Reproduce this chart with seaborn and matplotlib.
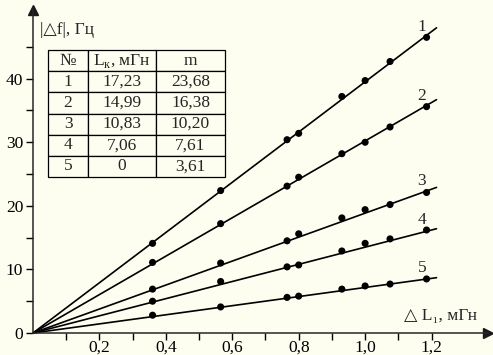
import matplotlib
matplotlib.use("Agg")
import matplotlib.pyplot as plt
import numpy as np
import pandas as pd
import seaborn as sns

# ===== data =====
dL = [0.36, 0.565, 0.765, 0.80, 0.93, 1.00, 1.075, 1.185]
df1 = [14.1, 22.4, 30.4, 31.4, 37.2, 39.7, 42.7, 46.5]
df2 = [11.1, 17.2, 23.1, 24.5, 28.2, 30.0, 32.4, 35.6]
df3 = [6.9, 11.0, 14.5, 15.6, 18.1, 19.4, 20.2, 22.1]
df4 = [5.0, 8.1, 10.4, 10.7, 12.9, 14.1, 14.8, 16.2]
df5 = [2.8, 4.1, 5.6, 5.8, 6.9, 7.4, 7.7, 8.5]

# straight fit lines from the origin
fit_x = [0.0, 1.215]
fit_end = [48.0, 36.7, 22.9, 16.4, 8.7]

series_names = ["1", "2", "3", "4", "5"]

# table
tab_no = ["1", "2", "3", "4", "5"]
tab_Lk = ["17,23", "14,99", "10,83", "7,06", "0"]
tab_m = ["23,68", "16,38", "10,20", "7,61", "3,61"]

bg = "#fdfdf0"
fs = 12.5
fam = ["Liberation Serif", "DejaVu Sans"]

sns.set_theme(style="ticks")
plt.rcParams["font.family"] = fam
plt.rcParams["mathtext.fontset"] = "custom"
plt.rcParams["mathtext.rm"] = "Liberation Serif"

pts = pd.DataFrame({
    "x": dL * 5,
    "y": df1 + df2 + df3 + df4 + df5,
    "s": np.repeat(series_names, len(dL)),
})
lines = pd.DataFrame({
    "x": fit_x * 5,
    "y": [v for e in fit_end for v in (0.0, e)],
    "s": np.repeat(series_names, 2),
})

fig = plt.figure(figsize=(4.93, 3.55), dpi=100, facecolor=bg)
ax = fig.add_axes([33 / 493, 22 / 355, 455 / 493, 323 / 355])
ax.set_facecolor(bg)

black = {k: "black" for k in series_names}
sns.lineplot(data=lines, x="x", y="y", hue="s", palette=black, lw=1.2,
             legend=False, ax=ax, clip_on=False)
sns.scatterplot(data=pts, x="x", y="y", hue="s", palette=black, s=26,
                edgecolor="black", linewidth=0, legend=False, ax=ax, zorder=3)

# curve numbers, just above each line near its end
for name, e in zip(series_names, fit_end):
    ax.text(1.171, e * 1.171 / fit_x[1] + 1.9, name, fontsize=fs,
            ha="center", va="center")

ax.set_xlim(0, 1.37)
ax.set_ylim(0, 50.8)
ax.set_xlabel("")
ax.set_ylabel("")
sns.despine(ax=ax)
for sp in ["left", "bottom"]:
    ax.spines[sp].set_linewidth(1.1)

ax.set_xticks([0.2, 0.4, 0.6, 0.8, 1.0, 1.2])
ax.set_xticklabels(["0,2", "0,4", "0,6", "0,8", "1,0", "1,2"])
ax.set_xticks([0.1, 0.3, 0.5, 0.7, 0.9, 1.1], minor=True)
ax.set_yticks([0, 10, 20, 30, 40])
ax.set_yticks([5, 15, 25, 35, 45], minor=True)
ax.tick_params(which="both", direction="out", length=5, width=1, labelsize=fs,
               color="black", labelcolor="black")
ax.tick_params(axis="x", pad=0)
ax.tick_params(axis="y", pad=2)

# axis arrows
ax.plot(1, 0, ">k", transform=ax.get_yaxis_transform(), clip_on=False, ms=7)
ax.plot(0, 1, "^k", transform=ax.get_xaxis_transform(), clip_on=False, ms=7)

ax.text(0.02, 47.7, "|△f|, Гц", fontsize=fs, ha="left", va="center",
        family=fam)
ax.text(1.338, 2.7, "△ L₁, мГн", fontsize=fs, ha="right", va="center",
        family=["Liberation Serif", "DejaVu Serif"])

# parameter table
cells = [[a, b, c] for a, b, c in zip(tab_no, tab_Lk, tab_m)]
tbl = ax.table(cellText=cells, colLabels=["№", r"L$_\mathregular{к}$, мГн", "m"],
               colWidths=[0.226, 0.384, 0.390], cellLoc="center",
               bbox=[0.033, 0.483, 0.389, 0.393])
tbl.auto_set_font_size(False)
tbl.set_fontsize(fs)
for cell in tbl.get_celld().values():
    cell.set_facecolor(bg)
    cell.set_edgecolor("black")
    cell.set_linewidth(0.9)

fig.savefig("out.png", dpi=100, facecolor=bg)
